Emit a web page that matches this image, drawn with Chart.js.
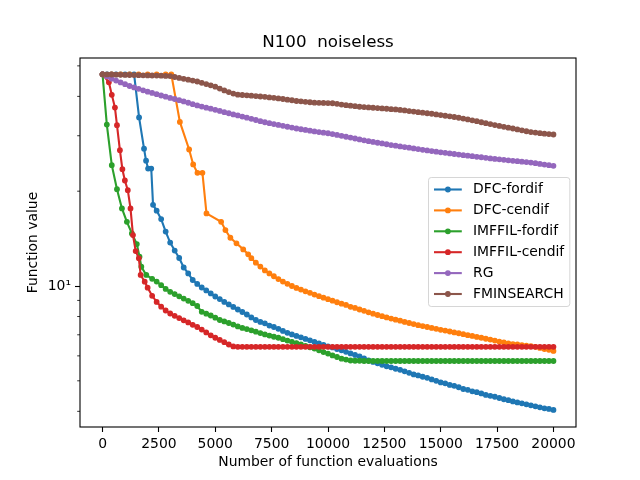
<!DOCTYPE html>
<html>
<head>
<meta charset="utf-8">
<script src="https://cdn.jsdelivr.net/npm/chart.js@4.4.1/dist/chart.umd.min.js"></script>
<style>
  html, body { margin: 0; padding: 0; background: #fff; }
  canvas { display: block; }
</style>
</head>
<body>
<canvas id="chart" width="640" height="480"></canvas>
<script>
const chartTitle = 'N100  noiseless';
const seriesNames = ['DFC-fordif', 'DFC-cendif', 'IMFFIL-fordif', 'IMFFIL-cendif', 'RG', 'FMINSEARCH'];
const seriesColors = ['#1f77b4', '#ff7f0e', '#2ca02c', '#d62728', '#9467bd', '#8c564b'];
const xTickValues = [0, 2500, 5000, 7500, 10000, 12500, 15000, 17500, 20000];
const yTickValues = [4, 5, 6, 7, 8, 9, 10, 20, 30, 40, 50];

// evaluation counts at which the values were logged
const evalGrid = Array.from({ length: 101 }, (_, i) => i * 200);
const gridFrom = start => evalGrid.filter(e => e >= start);

const dfcFordifEvals = [0, 200, 400, 600, 800, 1000, 1200, 1400, 1620, 1840, 1930, 2020, 2160, 2240].concat(gridFrom(2400));
const dfcFordifValues = [
    47.0, 47.0, 47.0, 47.0, 47.0, 47.0, 47.0, 47.0, 34.3, 27.3, 25.0, 23.6, 23.6, 18.1,
    17.35, 16.31, 14.89, 13.74, 12.96, 12.27, 11.45, 10.96, 10.45,
    10.15, 9.89, 9.68, 9.47, 9.26, 9.09, 8.90, 8.74, 8.58, 8.42,
    8.27, 8.12, 7.95, 7.80, 7.69, 7.61, 7.49, 7.41, 7.31, 7.20,
    7.10, 7.02, 6.94, 6.87, 6.79, 6.72, 6.64, 6.57, 6.50, 6.43,
    6.38, 6.31, 6.25, 6.18, 6.11, 6.04, 5.98, 5.89, 5.80, 5.74,
    5.68, 5.62, 5.56, 5.52, 5.46, 5.42, 5.36, 5.30, 5.24, 5.20,
    5.15, 5.11, 5.05, 5.00, 4.94, 4.91, 4.85, 4.82, 4.77, 4.71,
    4.68, 4.63, 4.60, 4.56, 4.51, 4.48, 4.45, 4.41, 4.37, 4.34,
    4.30, 4.27, 4.24, 4.21, 4.18, 4.15, 4.12, 4.09, 4.07, 4.04
];

const dfcCendifEvals = [0, 400, 800, 1200, 1600, 2000, 2400, 2800, 3050, 3430, 3840, 4020, 4210, 4430, 4610,
    5260, 5450, 5670, 5940, 6240, 6460].concat(gridFrom(6600));
const dfcCendifValues = [
    47.0, 47.0, 47.0, 47.0, 47.0, 47.0, 47.0, 47.0, 47.0, 33.19, 27.13, 24.32, 22.87, 22.87, 17.00,
    15.99, 15.05, 14.23, 13.66, 13.07, 12.61,
    12.26, 11.86, 11.53, 11.21, 10.96, 10.74, 10.52, 10.33,
    10.16, 10.00, 9.86, 9.74, 9.62, 9.51, 9.39, 9.28, 9.18, 9.08,
    8.98, 8.88, 8.79, 8.71, 8.59, 8.52, 8.42, 8.34, 8.25, 8.17,
    8.09, 8.02, 7.95, 7.88, 7.82, 7.76, 7.69, 7.63, 7.57, 7.51,
    7.46, 7.41, 7.36, 7.31, 7.26, 7.22, 7.17, 7.12, 7.08, 7.03,
    6.98, 6.94, 6.89, 6.85, 6.80, 6.76, 6.71, 6.66, 6.62, 6.57,
    6.54, 6.52, 6.49, 6.46, 6.44, 6.41, 6.36, 6.31, 6.27, 6.22
];

const imffilFordifEvals = [0, 190, 410, 640, 860, 1080, 1300, 1520, 1640, 1720, 1940].concat(gridFrom(2200));
const imffilFordifValues = [
    47.0, 32.56, 24.19, 20.30, 17.63, 15.99, 14.69, 13.59, 12.39, 11.51, 10.84,
    10.54, 10.33, 10.06, 9.79, 9.58, 9.43, 9.27, 9.12, 8.97, 8.82,
    8.64, 8.28, 8.17, 8.06, 7.93, 7.80, 7.72, 7.63, 7.54, 7.44,
    7.36, 7.30, 7.23, 7.16, 7.09, 7.02, 6.96, 6.90, 6.85, 6.78,
    6.71, 6.65, 6.59, 6.52, 6.45, 6.39, 6.33, 6.25, 6.17, 6.10,
    6.02, 5.95, 5.88, 5.84, 5.80, 5.79, 5.79,
    5.78, 5.78, 5.78, 5.78, 5.78, 5.78, 5.78, 5.78, 5.78, 5.78,
    5.78, 5.78, 5.78, 5.78, 5.78, 5.78, 5.78, 5.78, 5.78, 5.78,
    5.78, 5.78, 5.78, 5.78, 5.78, 5.78, 5.78, 5.78, 5.78, 5.78,
    5.78, 5.78, 5.78, 5.78, 5.78, 5.78, 5.78, 5.78, 5.78, 5.78,
    5.78, 5.78, 5.78
];

const imffilCendifEvals = [0, 280, 410, 550, 640, 770, 880, 990, 1120, 1240, 1350, 1470, 1610, 1690, 1870].concat(gridFrom(2000));
const imffilCendifValues = [
    47.0, 44.34, 40.47, 36.86, 32.40, 26.99, 23.49, 21.63, 20.15, 17.63, 14.51, 12.91, 12.24, 10.84, 10.32,
    9.88, 9.31, 8.90, 8.60, 8.36, 8.18, 8.04, 7.91, 7.78, 7.66,
    7.53, 7.41, 7.27, 7.12, 6.97, 6.85, 6.74, 6.63, 6.52, 6.43,
    6.41, 6.41, 6.41, 6.41, 6.41, 6.41, 6.41, 6.41, 6.41, 6.41,
    6.41, 6.41, 6.41, 6.41, 6.41, 6.41, 6.41, 6.41, 6.41, 6.41,
    6.41, 6.41, 6.41, 6.41, 6.41, 6.41, 6.41, 6.41, 6.41, 6.41,
    6.41, 6.41, 6.41, 6.41, 6.41, 6.41, 6.41, 6.41, 6.41, 6.41,
    6.41, 6.41, 6.41, 6.41, 6.41, 6.41, 6.41, 6.41, 6.41, 6.41,
    6.41, 6.41, 6.41, 6.41, 6.41, 6.41, 6.41, 6.41, 6.41, 6.41,
    6.41, 6.41, 6.41, 6.41, 6.41, 6.41, 6.41, 6.41, 6.41, 6.41,
    6.41
];

const rgValues = [
    47.0, 46.29, 45.53, 44.89, 44.31, 43.73, 43.16, 42.72, 42.26, 41.82,
    41.39, 41.03, 40.65, 40.26, 39.91, 39.56, 39.24, 38.90, 38.54, 38.18,
    37.79, 37.43, 37.13, 36.84, 36.57, 36.26, 35.96, 35.64, 35.36, 35.07,
    34.80, 34.52, 34.24, 33.95, 33.66, 33.36, 33.11, 32.89, 32.68, 32.47,
    32.26, 32.04, 31.84, 31.63, 31.46, 31.30, 31.12, 30.96, 30.82, 30.69,
    30.55, 30.37, 30.18, 29.98, 29.78, 29.59, 29.40, 29.20, 29.01, 28.84,
    28.67, 28.50, 28.36, 28.19, 28.03, 27.89, 27.75, 27.61, 27.49, 27.35,
    27.21, 27.07, 26.95, 26.81, 26.70, 26.58, 26.48, 26.37, 26.25, 26.14,
    26.02, 25.93, 25.83, 25.72, 25.63, 25.52, 25.42, 25.33, 25.24, 25.15,
    25.07, 24.98, 24.91, 24.82, 24.74, 24.65, 24.55, 24.42, 24.30, 24.19,
    24.07
];

const fminsearchValues = [
    47.0, 46.97, 46.94, 46.87, 46.84, 46.80, 46.77, 46.74, 46.70, 46.67,
    46.63, 46.60, 46.57, 46.53, 46.46, 46.40, 46.09, 45.79, 45.49, 45.20,
    44.89, 44.60, 44.18, 43.76, 43.38, 42.94, 42.36, 41.79, 41.27, 40.82,
    40.50, 40.41, 40.32, 40.21, 40.09, 39.97, 39.86, 39.71, 39.57, 39.42,
    39.25, 39.05, 38.88, 38.68, 38.57, 38.43, 38.32, 38.21, 38.15, 38.12,
    38.09, 38.04, 37.87, 37.68, 37.52, 37.38, 37.24, 37.08, 37.00, 36.89,
    36.81, 36.73, 36.63, 36.54, 36.44, 36.36, 36.22, 36.09, 35.93, 35.80,
    35.64, 35.51, 35.36, 35.23, 35.05, 34.90, 34.72, 34.57, 34.40, 34.22,
    34.02, 33.79, 33.58, 33.36, 33.11, 32.89, 32.66, 32.44, 32.23, 32.02,
    31.81, 31.63, 31.42, 31.21, 31.00, 30.82, 30.71, 30.57, 30.46, 30.37,
    30.27
];

const seriesEvals = [dfcFordifEvals, dfcCendifEvals, imffilFordifEvals, imffilCendifEvals, evalGrid, evalGrid];
const seriesValues = [dfcFordifValues, dfcCendifValues, imffilFordifValues, imffilCendifValues, rgValues, fminsearchValues];

const FS = 13.9;  // 10pt at 100 dpi

Chart.defaults.font.family = "'DejaVu Sans', sans-serif";
Chart.defaults.font.size = FS;
Chart.defaults.color = '#000';

const datasets = seriesNames.map((name, i) => {
    if (seriesEvals[i].length !== seriesValues[i].length) {
        console.warn(name + ': ' + seriesEvals[i].length + ' evals vs ' + seriesValues[i].length + ' values');
    }
    return {
        label: name,
        data: seriesEvals[i].map((e, k) => ({ x: e, y: seriesValues[i][k] })),
        borderColor: seriesColors[i],
        backgroundColor: seriesColors[i],
        borderWidth: 2.1,
        pointRadius: 2.2,
        pointBorderWidth: 1.4,
        pointBackgroundColor: seriesColors[i],
        pointBorderColor: seriesColors[i],
        tension: 0,
        fill: false,
        order: seriesNames.length - i   // later series drawn on top
    };
});

// title centred over the axes, as matplotlib does
const titlePlugin = {
    id: 'axesTitle',
    afterDraw(chart) {
        const { ctx, chartArea: a } = chart;
        ctx.save();
        ctx.font = "16.7px 'DejaVu Sans'";
        ctx.fillStyle = '#000';
        ctx.textAlign = 'center';
        ctx.textBaseline = 'middle';
        ctx.fillText(chartTitle, (a.left + a.right) / 2, 43);
        ctx.restore();
    }
};

// full frame round the axes plus the short minor ticks of the log axis
const framePlugin = {
    id: 'frame',
    afterDatasetsDraw(chart) {
        const { ctx, chartArea: a } = chart;
        const ys = chart.scales.y;
        ctx.save();
        ctx.strokeStyle = '#000';
        ctx.lineWidth = 1.1;
        ctx.strokeRect(a.left, a.top, a.right - a.left, a.bottom - a.top);
        ctx.lineWidth = 0.8;
        ctx.beginPath();
        yTickValues.filter(v => v !== 10).forEach(v => {
            const py = ys.getPixelForValue(v);
            ctx.moveTo(a.left - 2.8, py);
            ctx.lineTo(a.left, py);
        });
        ctx.stroke();
        ctx.restore();
    }
};

// matplotlib-like legend box inside the axes
const legendPlugin = {
    id: 'boxLegend',
    afterDraw(chart) {
        const { ctx } = chart;
        ctx.save();
        ctx.font = FS + "px 'DejaVu Sans'";
        const textW = Math.max(...seriesNames.map(n => ctx.measureText(n).width));
        const left = 428.5, top = 177.5, bottom = 306.5;
        const right = 473 + textW + 5.6;
        const r = 2.8;
        ctx.beginPath();
        ctx.moveTo(left + r, top);
        ctx.arcTo(right, top, right, bottom, r);
        ctx.arcTo(right, bottom, left, bottom, r);
        ctx.arcTo(left, bottom, left, top, r);
        ctx.arcTo(left, top, right, top, r);
        ctx.closePath();
        ctx.fillStyle = 'rgba(255,255,255,0.8)';
        ctx.fill();
        ctx.strokeStyle = 'rgba(204,204,204,0.8)';
        ctx.lineWidth = 1;
        ctx.stroke();

        seriesNames.forEach((name, i) => {
            const y = 189.5 + i * 20.9;
            ctx.strokeStyle = seriesColors[i];
            ctx.fillStyle = seriesColors[i];
            ctx.lineWidth = 2.1;
            ctx.beginPath();
            ctx.moveTo(434, y);
            ctx.lineTo(461.8, y);
            ctx.stroke();
            ctx.lineWidth = 1.4;
            ctx.beginPath();
            ctx.arc(447.9, y, 2.2, 0, Math.PI * 2);
            ctx.fill();
            ctx.stroke();
            ctx.fillStyle = '#000';
            ctx.textBaseline = 'middle';
            ctx.textAlign = 'left';
            ctx.fillText(name, 473, y);
        });
        ctx.restore();
    }
};

new Chart(document.getElementById('chart'), {
    type: 'line',
    data: { datasets },
    options: {
        responsive: false,
        animation: false,
        devicePixelRatio: 1,
        events: [],
        layout: { padding: { left: 0, right: 64, top: 58, bottom: 0 } },
        plugins: {
            legend: { display: false },
            tooltip: { enabled: false },
            title: { display: false }
        },
        scales: {
            x: {
                type: 'linear',
                min: -1000,
                max: 21000,
                afterBuildTicks: s => { s.ticks = xTickValues.map(v => ({ value: v })); },
                afterFit: s => { s.height = 53; },
                ticks: { autoSkip: false, maxRotation: 0, padding: 4, callback: v => String(v) },
                grid: { drawOnChartArea: false, drawTicks: true, tickLength: 5, tickWidth: 1.1, tickColor: '#000' },
                border: { display: false },
                title: {
                    display: true,
                    text: 'Number of function evaluations',
                    padding: { top: 0, bottom: 9.7 }
                }
            },
            y: {
                type: 'logarithmic',
                min: 3.567,
                max: 52.96,
                afterBuildTicks: s => { s.ticks = yTickValues.map(v => ({ value: v, major: v === 10 })); },
                afterFit: s => { s.width = 80; },
                ticks: { autoSkip: false, padding: 4, callback: v => (v === 10 ? '10\u00b9' : '') },
                grid: {
                    drawOnChartArea: false,
                    drawTicks: true,
                    tickLength: 5,
                    tickWidth: 1.1,
                    tickColor: c => (c.tick && c.tick.value === 10 ? '#000' : 'rgba(0,0,0,0)')
                },
                border: { display: false },
                title: {
                    display: true,
                    text: 'Function value',
                    padding: { top: 24.7, bottom: 0 }
                }
            }
        }
    },
    plugins: [framePlugin, legendPlugin, titlePlugin]
});
</script>
</body>
</html>
